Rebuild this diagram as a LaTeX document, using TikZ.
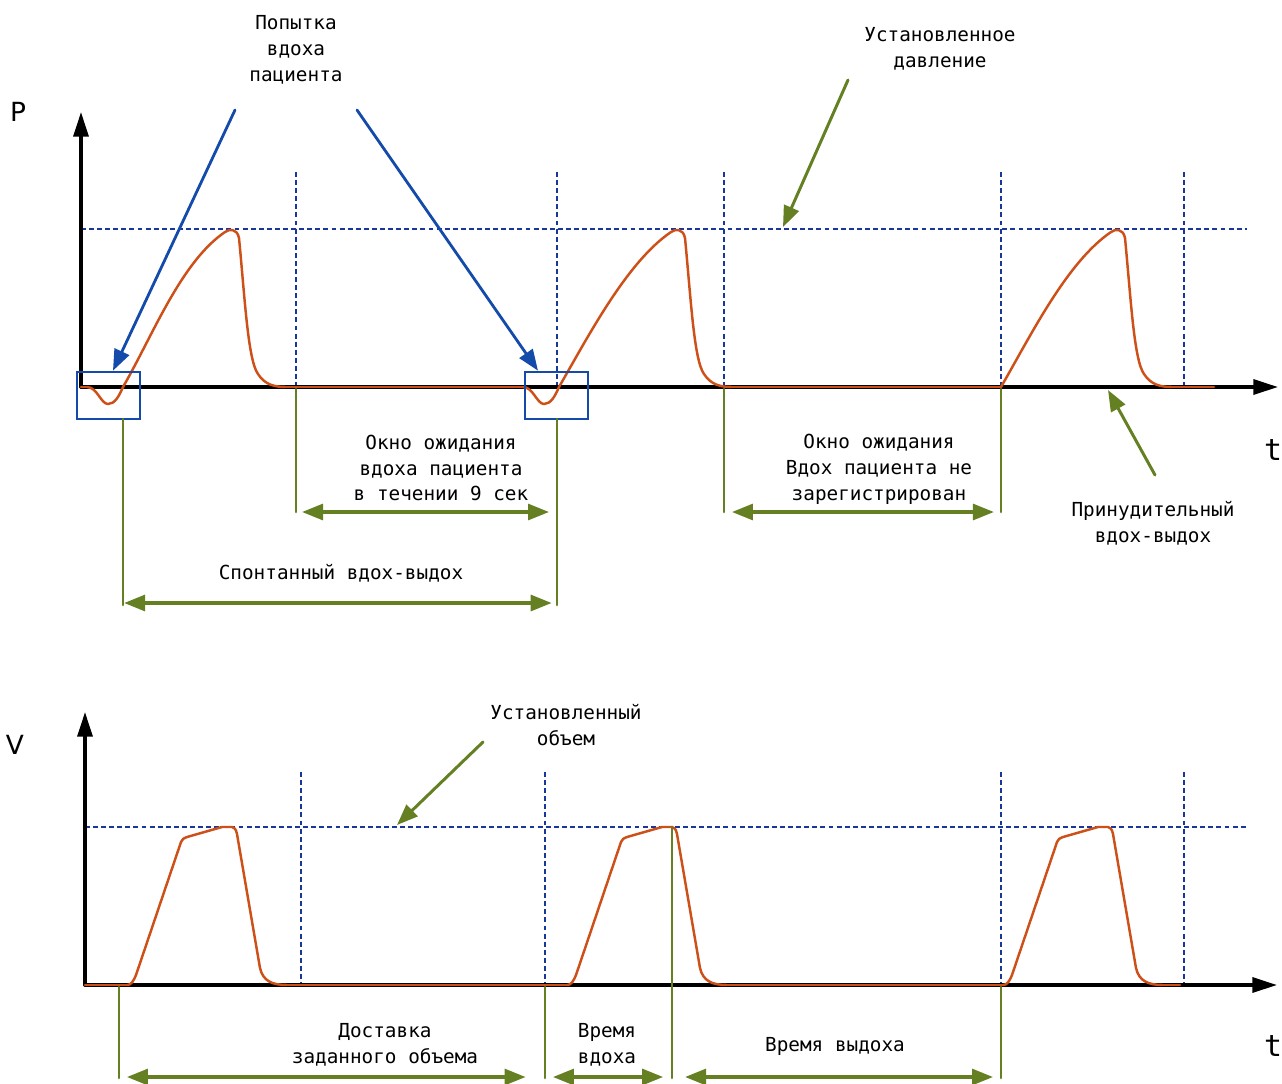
\documentclass[tikz,border=0pt]{standalone}
\usepackage{fontspec}
\setmainfont{DejaVu Sans Mono}
\newfontfamily\axisfont{DejaVu Sans}
\usetikzlibrary{arrows.meta}

\definecolor{waveorange}{RGB}{205,80,25}
\definecolor{levelblue}{RGB}{25,55,155}
\definecolor{markblue}{RGB}{20,75,170}
\definecolor{spangreen}{RGB}{100,128,35}

\begin{document}
\begin{tikzpicture}[x=0.02cm,y=-0.02cm,line cap=round,>={Triangle[length=12pt,width=9pt]},
        axis/.style={line width=1.9pt,-{Triangle[length=14pt,width=8.5pt]}},
        level/.style={levelblue,line width=1.6pt,line cap=butt,dash pattern=on 2.8pt off 1.8pt},
        wave/.style={waveorange,line width=1.4pt,line join=round},
        guide/.style={spangreen,line width=1.5pt},
        span/.style={spangreen,line width=2pt,<->},
        hint/.style={spangreen,line width=1.7pt,->},
        trybox/.style={draw=markblue,line width=1.5pt,minimum width=1.26cm,minimum height=0.94cm,inner sep=0pt},
        trypointer/.style={markblue,line width=1.6pt,->},
        txt/.style={align=center,font=\fontsize{11}{14.7}\selectfont,inner sep=0pt},
        axislabel/.style={font=\axisfont\fontsize{15}{18}\selectfont,inner sep=0pt},
        timelabel/.style={font=\fontsize{17}{20}\selectfont,inner sep=0pt}]
        \useasboundingbox (0,0) rectangle (1282,1083);

        %%% pressure graph
        % draw the set level and the time marks
        \draw[level] (81,229) -- (1247,229);
        \foreach \x in {296,557,724,1001,1184}
                \draw[level] (\x,172) -- (\x,387);

        % draw the coordinates
        \coordinate (P0) at (81,387);
        \coordinate (Ptop) at (81,112);
        \coordinate (Pend) at (1278,387);
        \draw[axis] (P0) -- (Ptop);
        \draw[axis] (P0) -- (Pend);
        \node[axislabel] (Plabel) at (18,112) {P};
        \node[timelabel] (Ptime) at (1273,450) {t};

        % draw the pressure curve
        \draw[wave] (81,387) -- (87,387) (286,387) -- (523,387) (732,387) -- (1001,387) (1172,387) -- (1214,387);
        \foreach \s in {123,559}
                \draw[wave] (\s-36,387) .. controls (\s-26,387) and (\s-22,404) .. (\s-15,404)
                        .. controls (\s-8,404) and (\s-4,396) .. (\s,387);
        \foreach \s/\p in {123/231,559/677,1001/1117}
                \draw[wave] (\s,387) .. controls (\s+30,335) and (\p-50,262) .. (\p-6,232)
                        .. controls (\p-2,229) and (\p+6,228) .. (\p+8,238)
                        .. controls (\p+14,300) and (\p+17,360) .. (\p+27,374)
                        .. controls (\p+34,385) and (\p+44,387) .. (\p+55,387);

        % attempts of the patient
        \node[trybox] (try1) at (108.5,395.5) {};
        \node[trybox] (try2) at (556.5,395.5) {};
        \node[txt] (tryText) at (296,50) {Попытка\\вдоха\\пациента};
        \coordinate (try1 from) at (235,110);
        \coordinate (try2 from) at (357,110);
        \draw[trypointer] (try1 from) -- ([xshift=0.09cm]try1.north);
        \draw[trypointer] (try2 from) -- ([xshift=-0.37cm]try2.north);

        % set pressure and forced breath
        \node[txt] (pSetText) at (940,49) {Установленное\\давление};
        \coordinate (pSet from) at (848,80);
        \coordinate (pSet) at (783,227);
        \draw[hint] (pSet from) -- (pSet);
        \node[txt] (forcedText) at (1153,523) {Принудительный\\вдох-выдох};
        \coordinate (forced from) at (1155,475);
        \coordinate (forced) at (1108,390);
        \draw[hint] (forced from) -- (forced);

        % draw the time spans
        \foreach \g/\x/\ya/\yb in {g1/123/419/605, g2/557/419/605, g3/296/389/512, g4/724/389/512, g5/1001/389/512} {
                \coordinate (\g top) at (\x,\ya);
                \coordinate (\g) at (\x,\yb);
                \draw[guide] (\g top) -- (\g);
        }
        \draw[span,shorten <=3.4pt,shorten >=4.5pt] (g3) -- (g2 |- g3);
        \draw[span,shorten <=4.5pt,shorten >=4pt] (g4) -- (g5);
        \draw[span,shorten <=0.6pt,shorten >=3pt] ([yshift=0.04cm]g1) -- ([yshift=0.04cm]g2);
        \node[txt] (waitText) at (441,468) {Окно ожидания\\вдоха пациента\\в течении 9 сек};
        \node[txt] (missText) at (879,469) {Окно ожидания\\Вдох пациента не\\зарегистрирован};
        \node[txt] (spontText) at (341,573) {Спонтанный вдох-выдох};

        %%% volume graph
        % draw the set level and the time marks
        \draw[level] (85,827) -- (1247,827);
        \foreach \x in {301,545,1001,1184}
                \draw[level] (\x,772) -- (\x,985);

        % draw the coordinates
        \coordinate (V0) at (85,985);
        \coordinate (Vtop) at (85,712);
        \coordinate (Vend) at (1277,985);
        \draw[axis] (V0) -- (Vtop);
        \draw[axis] (V0) -- (Vend);
        \node[axislabel] (Vlabel) at (15,745) {V};
        \node[timelabel] (Vtime) at (1273,1046) {t};

        % draw the volume curve
        \draw[wave] (85,985) -- (127,985) (287,985) -- (567,985) (727,985) -- (1003,985) (1163,985) -- (1180,985);
        \foreach \s in {127,567,1003}
                \draw[wave] (\s,985) .. controls (\s+4,985) and (\s+6,982) .. (\s+9,975) -- (\s+54,842)
                        .. controls (\s+55,839) and (\s+57,838) .. (\s+60,837) -- (\s+95,827) -- (\s+105,827)
                        .. controls (\s+107,827) and (\s+109,829) .. (\s+110,834) -- (\s+133,968)
                        .. controls (\s+136,981) and (\s+145,985) .. (\s+160,985);

        % set volume
        \node[txt] (vSetText) at (566,725) {Установленный\\объем};
        \coordinate (vSet from) at (483,742);
        \coordinate (vSet) at (397,825);
        \draw[hint] (vSet from) -- (vSet);

        % draw the time spans
        \foreach \h/\x/\ya in {h1/119/987, h2/545/987, h3/672/827, h4/1001/987} {
                \coordinate (\h top) at (\x,\ya);
                \coordinate (\h) at (\x,1078);
                \draw[guide] (\h top) -- (\h);
        }
        \draw[span,shorten <=4.5pt,shorten >=11pt] ([yshift=0.02cm]h1) -- ([yshift=0.02cm]h2);
        \draw[span,shorten <=4.5pt,shorten >=5pt] ([yshift=0.02cm]h2) -- ([yshift=0.02cm]h3);
        \draw[span,shorten <=7.4pt,shorten >=4.5pt] ([yshift=0.02cm]h3) -- ([yshift=0.02cm]h4);
        \node[txt] (deliverText) at (385,1045) {Доставка\\заданного объема};
        \node[txt] (inText) at (607,1045) {Время\\вдоха};
        \node[txt] (outText) at (835,1046) {Время выдоха};
\end{tikzpicture}
\end{document}
